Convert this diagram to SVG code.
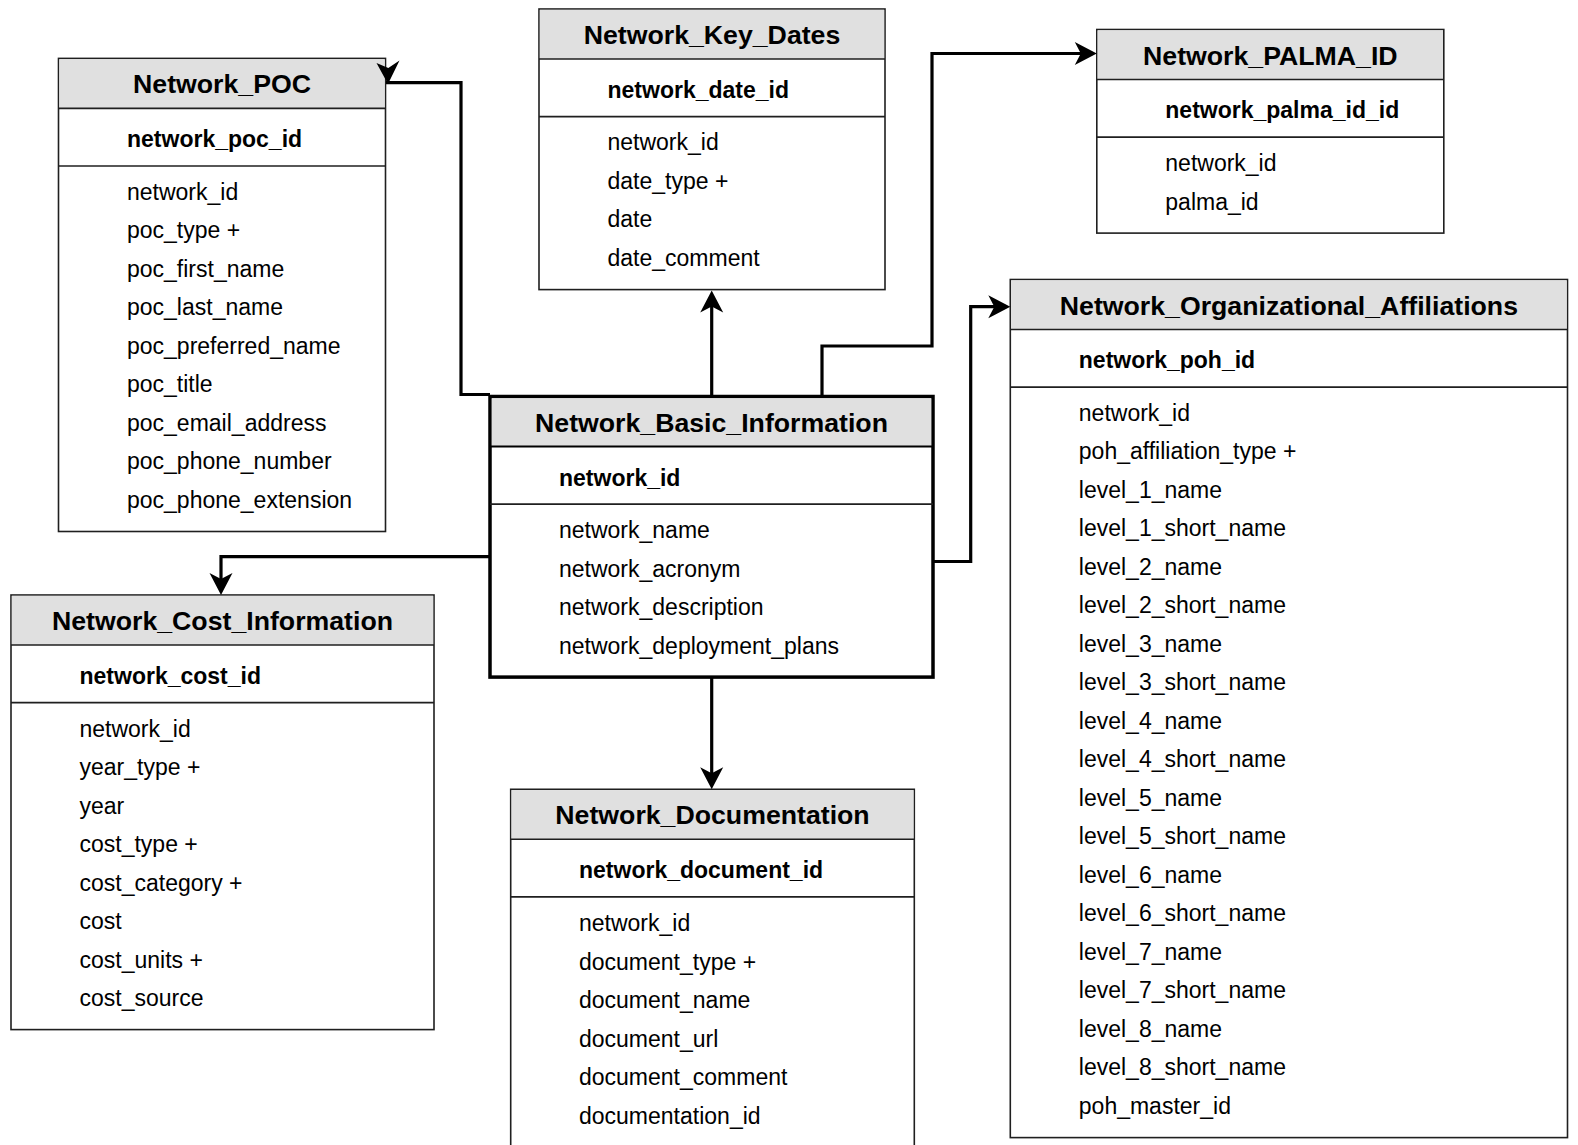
<svg xmlns="http://www.w3.org/2000/svg" width="1578" height="1145" viewBox="0 0 1578 1145">
<style>
.box{fill:#ffffff;stroke:#1f1f1f;stroke-width:1.6}
.main{fill:#ffffff;stroke:#000000;stroke-width:3.5}
.hdr{fill:#e0e0e0;stroke:none}
.sep{stroke:#1f1f1f;stroke-width:1.6}
.sepm{stroke:#000000;stroke-width:2.2}
.title{font-family:"Liberation Sans",Arial,Helvetica,sans-serif;font-size:26.7px;font-weight:bold;fill:#000;text-anchor:middle}
.key{font-family:"Liberation Sans",Arial,Helvetica,sans-serif;font-size:23px;font-weight:bold;fill:#000}
.fld{font-family:"Liberation Sans",Arial,Helvetica,sans-serif;font-size:23px;fill:#000}
.conn{fill:none;stroke:#000;stroke-width:3.2;stroke-linejoin:miter}
</style>
<defs>
<marker id="arr" markerUnits="userSpaceOnUse" markerWidth="23" markerHeight="24" refX="14" refY="11.5" orient="auto" overflow="visible">
<path d="M0,0 L22,11.5 L0,23 L6,11.5 Z" fill="#000"/>
</marker>
</defs>

<g id="network_poc">
<rect class="box" x="58.5" y="58.4" width="327" height="473.1"/>
<rect class="hdr" x="59.3" y="59.2" width="325.4" height="49.2"/>
<line class="sep" x1="58.5" y1="108.4" x2="385.5" y2="108.4"/>
<line class="sep" x1="58.5" y1="166" x2="385.5" y2="166"/>
<text class="title" x="222" y="93.3">Network_POC</text>
<text class="key" x="127" y="147.2">network_poc_id</text>
<text class="fld" x="127" y="199.75">network_id</text>
<text class="fld" x="127" y="238.25">poc_type +</text>
<text class="fld" x="127" y="276.75">poc_first_name</text>
<text class="fld" x="127" y="315.25">poc_last_name</text>
<text class="fld" x="127" y="353.75">poc_preferred_name</text>
<text class="fld" x="127" y="392.25">poc_title</text>
<text class="fld" x="127" y="430.75">poc_email_address</text>
<text class="fld" x="127" y="469.25">poc_phone_number</text>
<text class="fld" x="127" y="507.75">poc_phone_extension</text>
</g>

<g id="network_key_dates">
<rect class="box" x="539" y="9" width="346" height="280.6"/>
<rect class="hdr" x="539.8" y="9.8" width="344.4" height="49.2"/>
<line class="sep" x1="539" y1="59" x2="885" y2="59"/>
<line class="sep" x1="539" y1="116.6" x2="885" y2="116.6"/>
<text class="title" x="712" y="44">Network_Key_Dates</text>
<text class="key" x="607.5" y="97.6">network_date_id</text>
<text class="fld" x="607.5" y="150.35">network_id</text>
<text class="fld" x="607.5" y="188.6">date_type +</text>
<text class="fld" x="607.5" y="227.35">date</text>
<text class="fld" x="607.5" y="265.85">date_comment</text>
</g>

<g id="network_palma_id">
<rect class="box" x="1096.8" y="29.5" width="347" height="203.6"/>
<rect class="hdr" x="1097.6" y="30.3" width="345.4" height="49.2"/>
<line class="sep" x1="1096.8" y1="79.5" x2="1443.8" y2="79.5"/>
<line class="sep" x1="1096.8" y1="137.1" x2="1443.8" y2="137.1"/>
<text class="title" x="1270.3" y="64.5">Network_PALMA_ID</text>
<text class="key" x="1165.3" y="118.1">network_palma_id_id</text>
<text class="fld" x="1165.3" y="171.1">network_id</text>
<text class="fld" x="1165.3" y="210.4">palma_id</text>
</g>

<g id="network_organizational_affiliations">
<rect class="box" x="1010.3" y="279.5" width="557.2" height="858.1"/>
<rect class="hdr" x="1011.1" y="280.3" width="555.6" height="49.2"/>
<line class="sep" x1="1010.3" y1="329.5" x2="1567.5" y2="329.5"/>
<line class="sep" x1="1010.3" y1="387.1" x2="1567.5" y2="387.1"/>
<text class="title" x="1288.9" y="314.5">Network_Organizational_Affiliations</text>
<text class="key" x="1078.8" y="368.2">network_poh_id</text>
<text class="fld" x="1078.8" y="420.85">network_id</text>
<text class="fld" x="1078.8" y="459.35">poh_affiliation_type +</text>
<text class="fld" x="1078.8" y="497.85">level_1_name</text>
<text class="fld" x="1078.8" y="536.35">level_1_short_name</text>
<text class="fld" x="1078.8" y="574.85">level_2_name</text>
<text class="fld" x="1078.8" y="613.35">level_2_short_name</text>
<text class="fld" x="1078.8" y="651.85">level_3_name</text>
<text class="fld" x="1078.8" y="690.35">level_3_short_name</text>
<text class="fld" x="1078.8" y="728.85">level_4_name</text>
<text class="fld" x="1078.8" y="767.35">level_4_short_name</text>
<text class="fld" x="1078.8" y="805.85">level_5_name</text>
<text class="fld" x="1078.8" y="844.35">level_5_short_name</text>
<text class="fld" x="1078.8" y="882.85">level_6_name</text>
<text class="fld" x="1078.8" y="921.35">level_6_short_name</text>
<text class="fld" x="1078.8" y="959.85">level_7_name</text>
<text class="fld" x="1078.8" y="998.35">level_7_short_name</text>
<text class="fld" x="1078.8" y="1036.85">level_8_name</text>
<text class="fld" x="1078.8" y="1075.35">level_8_short_name</text>
<text class="fld" x="1078.8" y="1113.85">poh_master_id</text>
</g>

<g id="network_basic_information">
<rect class="main" x="490" y="396.5" width="443" height="280.6"/>
<rect class="hdr" x="491.8" y="398.3" width="439.4" height="48.2"/>
<line class="sepm" x1="490" y1="446.5" x2="933" y2="446.5"/>
<line class="sep" x1="490" y1="504.1" x2="933" y2="504.1"/>
<text class="title" x="711.5" y="431.7">Network_Basic_Information</text>
<text class="key" x="559" y="485.6">network_id</text>
<text class="fld" x="559" y="538.4">network_name</text>
<text class="fld" x="559" y="576.9">network_acronym</text>
<text class="fld" x="559" y="615.4">network_description</text>
<text class="fld" x="559" y="653.9">network_deployment_plans</text>
</g>

<g id="network_cost_information">
<rect class="box" x="11" y="595" width="423" height="434.6"/>
<rect class="hdr" x="11.8" y="595.8" width="421.4" height="49.2"/>
<line class="sep" x1="11" y1="645" x2="434" y2="645"/>
<line class="sep" x1="11" y1="702.6" x2="434" y2="702.6"/>
<text class="title" x="222.5" y="630">Network_Cost_Information</text>
<text class="key" x="79.5" y="683.8">network_cost_id</text>
<text class="fld" x="79.5" y="736.9">network_id</text>
<text class="fld" x="79.5" y="775.2">year_type +</text>
<text class="fld" x="79.5" y="813.7">year</text>
<text class="fld" x="79.5" y="852.2">cost_type +</text>
<text class="fld" x="79.5" y="890.7">cost_category +</text>
<text class="fld" x="79.5" y="929.2">cost</text>
<text class="fld" x="79.5" y="967.7">cost_units +</text>
<text class="fld" x="79.5" y="1006.2">cost_source</text>
</g>

<g id="network_documentation">
<rect class="box" x="510.7" y="789.3" width="403.6" height="360"/>
<rect class="hdr" x="511.5" y="790.1" width="402" height="49.2"/>
<line class="sep" x1="510.7" y1="839.3" x2="914.3" y2="839.3"/>
<line class="sep" x1="510.7" y1="896.9" x2="914.3" y2="896.9"/>
<text class="title" x="712.5" y="824.3">Network_Documentation</text>
<text class="key" x="579" y="878.1">network_document_id</text>
<text class="fld" x="579" y="931">network_id</text>
<text class="fld" x="579" y="969.5">document_type +</text>
<text class="fld" x="579" y="1008">document_name</text>
<text class="fld" x="579" y="1046.5">document_url</text>
<text class="fld" x="579" y="1085">document_comment</text>
<text class="fld" x="579" y="1123.5">documentation_id</text>
</g>

<g id="connectors">
<path class="conn" d="M 490 394.5 H 461 V 82.7 H 386"/>
<path d="M 376.5 63 L 388 84 L 399.5 60.5 L 388.3 68 Z" fill="#000"/>
<path class="conn" d="M 711.7 396.5 V 298.6" marker-end="url(#arr)"/>
<path class="conn" d="M 822 396.5 V 346 H 932 V 53.5 H 1088.8" marker-end="url(#arr)"/>
<path class="conn" d="M 933 561.5 H 970.7 V 306.7 H 1002.3" marker-end="url(#arr)"/>
<path class="conn" d="M 490 556.7 H 221 V 587" marker-end="url(#arr)"/>
<path class="conn" d="M 711.7 677.1 V 781.3" marker-end="url(#arr)"/>
</g>
</svg>
